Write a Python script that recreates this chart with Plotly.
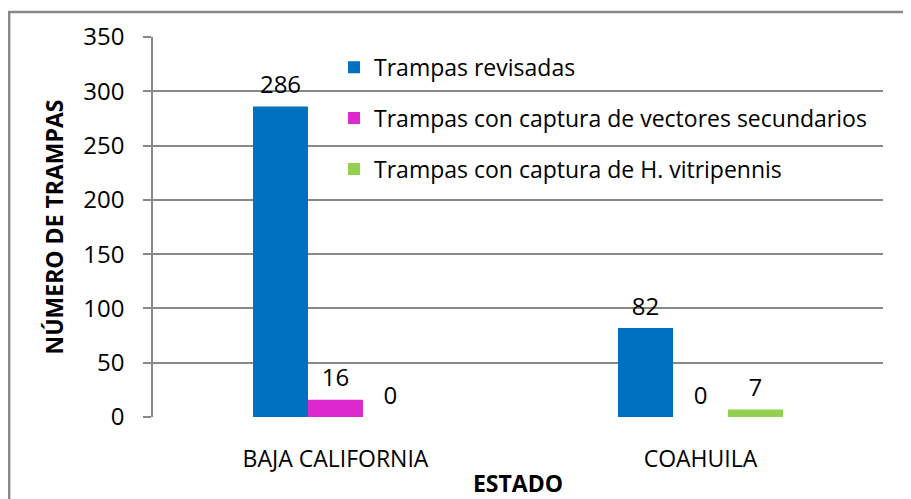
import plotly.graph_objects as go

categories = ["BAJA CALIFORNIA", "COAHUILA"]
series_names = [
    "Trampas revisadas",
    "Trampas con captura de vectores secundarios",
    "Trampas con captura de H. vitripennis",
]
revisadas = [286, 82]
vectores_secundarios = [16, 0]
h_vitripennis = [0, 7]
y_ticks = [0, 50, 100, 150, 200, 250, 300, 350]

colors = ["#0070C0", "#DC28CC", "#92D050"]
FONT = "Open Sans"

fig = go.Figure()
for i, (name, vals) in enumerate(zip(series_names, [revisadas, vectores_secundarios, h_vitripennis])):
    fig.add_trace(go.Bar(
        x=categories, y=vals, name=name, marker=dict(color=colors[i], line=dict(width=0)),
        offsetgroup=str(i), legendgroup=str(i), hoverinfo="x+y+name",
    ))
for i, vals in enumerate([revisadas, vectores_secundarios, h_vitripennis]):
    fig.add_trace(go.Scatter(
        x=categories, y=vals, mode="markers+text", text=[str(v) for v in vals],
        textposition="top center", textfont=dict(family=FONT, size=24, color="black"),
        marker=dict(size=10, opacity=0), offsetgroup=str(i), showlegend=False,
        hoverinfo="skip", cliponaxis=False,
    ))

fig.update_layout(
    width=903, height=491,
    margin=dict(l=145, r=28, t=29, b=82),
    paper_bgcolor="white", plot_bgcolor="white",
    barmode="group", scattermode="group", bargap=0.548, bargroupgap=0,
    font=dict(family=FONT, size=22, color="black"),
    legend=dict(
        x=0.248, y=0.977, xanchor="left", yanchor="top",
        bgcolor="rgba(0,0,0,0)", tracegroupgap=18,
        font=dict(family=FONT, size=23, color="black"),
    ),
    xaxis=dict(
        showgrid=False, ticks="outside", ticklen=0, ticklabelstandoff=21,
        tickfont=dict(family=FONT, size=23),
        title=dict(text="<b>ESTADO</b>", font=dict(family=FONT, size=23), standoff=6),
        automargin=False,
    ),
    yaxis=dict(
        range=[0, 350], tickvals=y_ticks, showgrid=True, gridcolor="#888888", gridwidth=1.5,
        showline=True, linecolor="#888888", linewidth=1.5,
        ticks="outside", ticklen=8, tickcolor="#888888", tickwidth=1.5,
        ticklabelstandoff=14, zeroline=False,
        tickfont=dict(family=FONT, size=24),
        title=dict(text="<b>NÚMERO DE TRAMPAS</b>", font=dict(family=FONT, size=23), standoff=13),
        automargin=False,
    ),
    shapes=[dict(
        type="rect", xref="paper", yref="paper",
        x0=-0.197, x1=1.06, y0=-0.25, y1=1.066,
        line=dict(color="#888888", width=2.5), fillcolor="rgba(0,0,0,0)", layer="below",
    )],
)

fig.write_html("out.html")
